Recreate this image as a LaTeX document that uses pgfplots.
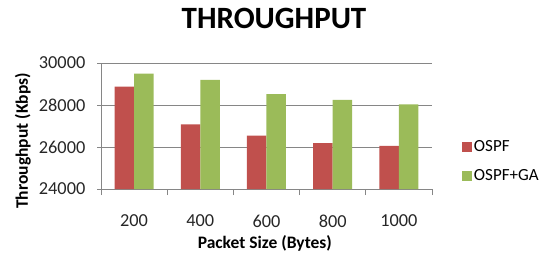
\documentclass[border=0pt]{standalone}
\usepackage{pgfplots}
\pgfplotsset{compat=1.18}
\usepackage{fontspec}
\setmainfont{Carlito}
\definecolor{ored}{HTML}{C0504D}
\definecolor{ogreen}{HTML}{9BBB59}
\definecolor{gridgray}{HTML}{868686}
\begin{document}
\begin{tikzpicture}
\useasboundingbox (0pt,0pt) rectangle (552pt,255pt);
\node[font=\fontsize{31}{34}\selectfont\bfseries] at (274pt,237pt) {THROUGHPUT};
\begin{axis}[
  at={(101pt,66pt)}, anchor=south west,
  scale only axis, width=331pt, height=126pt,
  ymin=24000, ymax=30000, ytick={24000,26000,28000,30000},
  xmin=0.5, xmax=5.5,
  xtick={1,2,3,4,5}, xticklabels={200,400,600,800,1000},
  minor xtick={0.5,1.5,2.5,3.5,4.5,5.5},
  major x tick style={draw=none},
  minor x tick style={draw=gridgray, line width=0.8pt},
  major y tick style={draw=gridgray, line width=0.8pt},
  tick align=outside,
  major tick length=7pt, minor tick length=6pt,
  axis x line=bottom, axis y line=left,
  axis line style={draw=gridgray, line width=0.8pt, -},
  ymajorgrids, grid style={draw=gridgray, line width=0.8pt},
  /pgf/number format/assume math mode=true,
  scaled y ticks=false,
  yticklabel={\pgfmathprintnumber[fixed,1000 sep={}]{\tick}},
  ticklabel style={font=\fontsize{18.3}{21}\selectfont, text=black!85},
  yticklabel style={anchor=east, inner sep=0pt, xshift=-12pt},
  xticklabel style={anchor=center, inner sep=0pt, yshift=-25pt},
  xlabel={Packet Size (Bytes)},
  ylabel={Throughput (Kbps)},
  label style={font=\fontsize{17.5}{20}\selectfont\bfseries},
  xlabel style={at={(axis description cs:0.495,-0.43)}, anchor=center},
  ylabel style={at={(axis description cs:-0.236,0.381)}, anchor=center, rotate=0},
  ybar=0pt, bar width=19.5pt,
  legend style={at={(axis description cs:1.09,0.22)}, anchor=west, draw=none, fill=none,
    font=\fontsize{17}{20}\selectfont, row sep=13pt, inner sep=0pt,
    legend cell align=left},
  legend image code/.code={\fill[#1] (0pt,-5pt) rectangle (10pt,5pt);},
]
\addplot[fill=ored, draw=none] coordinates {(1,28870) (2,27080) (3,26540) (4,26190) (5,26050)};
\addplot[fill=ogreen, draw=none] coordinates {(1,29490) (2,29200) (3,28520) (4,28250) (5,28030)};
\legend{OSPF, OSPF+GA}
\end{axis}
\end{tikzpicture}
\end{document}
